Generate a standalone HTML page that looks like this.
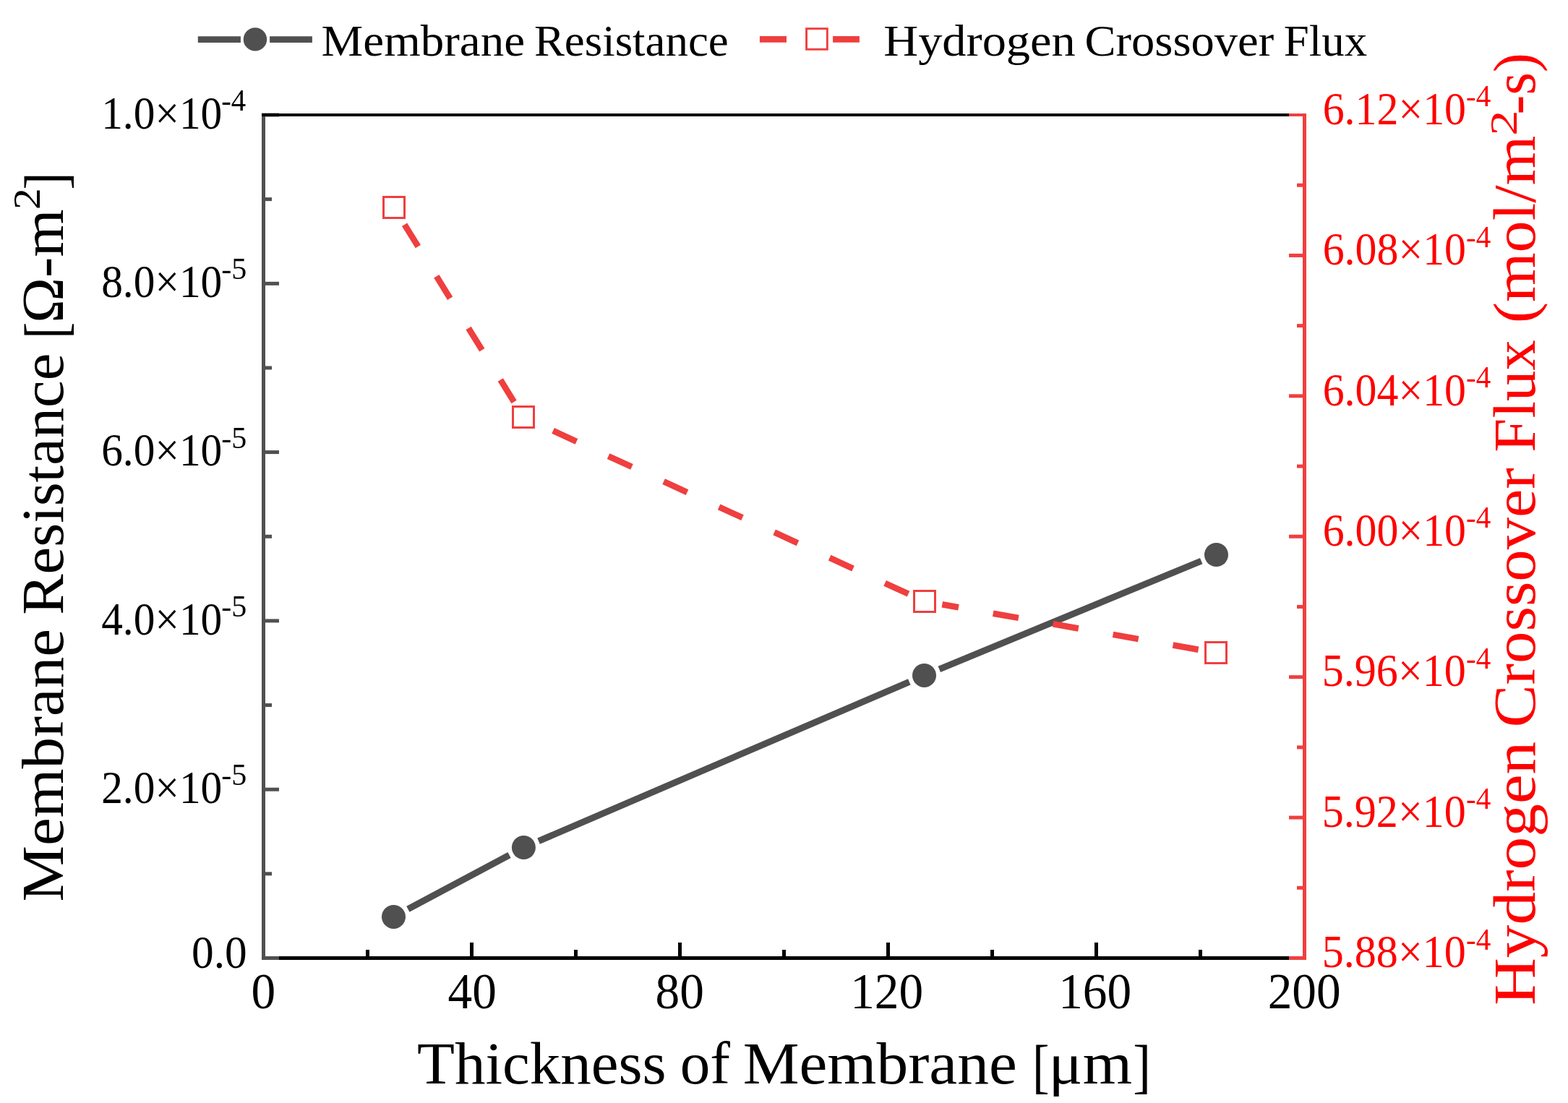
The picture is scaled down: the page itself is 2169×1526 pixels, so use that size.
<!DOCTYPE html>
<html><head><meta charset="utf-8"><title>Membrane Resistance and Hydrogen Crossover Flux vs Thickness</title>
<style>html,body{margin:0;padding:0;background:#fff;}svg{display:block;}text{font-family:"Liberation Serif","DejaVu Serif",serif;}</style>
</head><body>
<svg width="2169" height="1526" viewBox="0 0 2169 1526">
<rect width="2169" height="1526" fill="#fff"/>
<line x1="362" y1="1325.5" x2="1807" y2="1325.5" stroke="#000" stroke-width="5"/>
<line x1="364.5" y1="1304" x2="364.5" y2="1328" stroke="#000" stroke-width="5"/>
<line x1="508.5" y1="1314" x2="508.5" y2="1328" stroke="#000" stroke-width="5"/>
<line x1="652.5" y1="1304" x2="652.5" y2="1328" stroke="#000" stroke-width="5"/>
<line x1="796.5" y1="1314" x2="796.5" y2="1328" stroke="#000" stroke-width="5"/>
<line x1="940.5" y1="1304" x2="940.5" y2="1328" stroke="#000" stroke-width="5"/>
<line x1="1084.5" y1="1314" x2="1084.5" y2="1328" stroke="#000" stroke-width="5"/>
<line x1="1228.5" y1="1304" x2="1228.5" y2="1328" stroke="#000" stroke-width="5"/>
<line x1="1372.5" y1="1314" x2="1372.5" y2="1328" stroke="#000" stroke-width="5"/>
<line x1="1516.5" y1="1304" x2="1516.5" y2="1328" stroke="#000" stroke-width="5"/>
<line x1="1660.5" y1="1314" x2="1660.5" y2="1328" stroke="#000" stroke-width="5"/>
<line x1="1804.5" y1="1304" x2="1804.5" y2="1328" stroke="#000" stroke-width="5"/>
<line x1="364.5" y1="157" x2="364.5" y2="1328" stroke="#505050" stroke-width="5"/>
<line x1="362" y1="1325.5" x2="386" y2="1325.5" stroke="#505050" stroke-width="5"/>
<line x1="362" y1="1208.85" x2="376" y2="1208.85" stroke="#505050" stroke-width="5"/>
<line x1="362" y1="1092.2" x2="386" y2="1092.2" stroke="#505050" stroke-width="5"/>
<line x1="362" y1="975.55" x2="376" y2="975.55" stroke="#505050" stroke-width="5"/>
<line x1="362" y1="858.9" x2="386" y2="858.9" stroke="#505050" stroke-width="5"/>
<line x1="362" y1="742.25" x2="376" y2="742.25" stroke="#505050" stroke-width="5"/>
<line x1="362" y1="625.6" x2="386" y2="625.6" stroke="#505050" stroke-width="5"/>
<line x1="362" y1="508.95" x2="376" y2="508.95" stroke="#505050" stroke-width="5"/>
<line x1="362" y1="392.3" x2="386" y2="392.3" stroke="#505050" stroke-width="5"/>
<line x1="362" y1="275.65" x2="376" y2="275.65" stroke="#505050" stroke-width="5"/>
<line x1="362" y1="159" x2="386" y2="159" stroke="#505050" stroke-width="5"/>
<line x1="362" y1="159" x2="1807" y2="159" stroke="#000" stroke-width="4"/>
<line x1="1804.5" y1="157" x2="1804.5" y2="1328" stroke="#ef3f3f" stroke-width="5"/>
<line x1="1783" y1="159" x2="1807" y2="159" stroke="#ef3f3f" stroke-width="4"/>
<line x1="1794" y1="256.21" x2="1807" y2="256.21" stroke="#ef3f3f" stroke-width="5"/>
<line x1="1783" y1="353.42" x2="1807" y2="353.42" stroke="#ef3f3f" stroke-width="5"/>
<line x1="1794" y1="450.62" x2="1807" y2="450.62" stroke="#ef3f3f" stroke-width="5"/>
<line x1="1783" y1="547.83" x2="1807" y2="547.83" stroke="#ef3f3f" stroke-width="5"/>
<line x1="1794" y1="645.04" x2="1807" y2="645.04" stroke="#ef3f3f" stroke-width="5"/>
<line x1="1783" y1="742.25" x2="1807" y2="742.25" stroke="#ef3f3f" stroke-width="5"/>
<line x1="1794" y1="839.46" x2="1807" y2="839.46" stroke="#ef3f3f" stroke-width="5"/>
<line x1="1783" y1="936.67" x2="1807" y2="936.67" stroke="#ef3f3f" stroke-width="5"/>
<line x1="1794" y1="1033.88" x2="1807" y2="1033.88" stroke="#ef3f3f" stroke-width="5"/>
<line x1="1783" y1="1131.08" x2="1807" y2="1131.08" stroke="#ef3f3f" stroke-width="5"/>
<line x1="1794" y1="1228.29" x2="1807" y2="1228.29" stroke="#ef3f3f" stroke-width="5"/>
<line x1="1783" y1="1325.5" x2="1807" y2="1325.5" stroke="#ef3f3f" stroke-width="5"/>
<line x1="564.36" y1="1257.82" x2="704.54" y2="1183.08" stroke="#505050" stroke-width="9"/>
<line x1="745.07" y1="1163.62" x2="1257.83" y2="943.28" stroke="#505050" stroke-width="9"/>
<line x1="1299.3" y1="925.81" x2="1661.7" y2="776.09" stroke="#505050" stroke-width="9"/>
<circle cx="544.5" cy="1268.4" r="16.5" fill="#505050"/>
<circle cx="724.4" cy="1172.5" r="16.5" fill="#505050"/>
<circle cx="1278.5" cy="934.4" r="16.5" fill="#505050"/>
<circle cx="1682.5" cy="767.5" r="16.5" fill="#505050"/>
<line x1="711.03" y1="555.98" x2="557.97" y2="308.02" stroke="#ef3f3f" stroke-width="8.5" stroke-dasharray="35.7 48.5"/>
<line x1="1256.56" y1="821.69" x2="746.44" y2="587.31" stroke="#ef3f3f" stroke-width="8.5" stroke-dasharray="35.7 48.5"/>
<line x1="1657.67" y1="898.71" x2="1303.33" y2="836.29" stroke="#ef3f3f" stroke-width="8.5" stroke-dasharray="35.7 48.5"/>
<rect x="530.5" y="272.5" width="29" height="29" fill="none" stroke="#ef3f3f" stroke-width="3"/>
<rect x="709.5" y="562.5" width="29" height="29" fill="none" stroke="#ef3f3f" stroke-width="3"/>
<rect x="1264.5" y="817.5" width="29" height="29" fill="none" stroke="#ef3f3f" stroke-width="3"/>
<rect x="1667.5" y="888.5" width="29" height="29" fill="none" stroke="#ef3f3f" stroke-width="3"/>
<line x1="273.8" y1="54.6" x2="332.9" y2="54.6" stroke="#505050" stroke-width="8.8"/>
<line x1="373.1" y1="54.6" x2="431.9" y2="54.6" stroke="#505050" stroke-width="8.8"/>
<circle cx="352.95" cy="54.4" r="16.2" fill="#505050"/>
<line x1="1050.9" y1="54.3" x2="1088" y2="54.3" stroke="#ef3f3f" stroke-width="8.8"/>
<line x1="1152.1" y1="54.3" x2="1188.9" y2="54.3" stroke="#ef3f3f" stroke-width="8.8"/>
<rect x="1115.55" y="39.65" width="28.8" height="28.6" fill="none" stroke="#ef3f3f" stroke-width="2.9"/>
<text transform="translate(444.58,77.1) scale(1.0621,1)" font-size="61.2" fill="#000">Membrane</text>
<text transform="translate(738.95,77.1) scale(1.0271,1)" font-size="61.2" fill="#000">Resistance</text>
<text transform="translate(1222.23,76.9) scale(1.0847,1)" font-size="61.2" fill="#000">Hydrogen</text>
<text transform="translate(1500.54,76.9) scale(1.0543,1)" font-size="61.2" fill="#000">Crossover</text>
<text transform="translate(1775.84,76.9) scale(1.0284,1)" font-size="61.2" fill="#000">Flux</text>
<text transform="translate(140.14,177.7) scale(0.9314,1)" font-size="63.8" fill="#000">1.0×10</text>
<text transform="translate(306.28,153) scale(0.9576,1)" font-size="42.6" fill="#000">-4</text>
<text transform="translate(140.14,411) scale(0.9314,1)" font-size="63.8" fill="#000">8.0×10</text>
<text transform="translate(306.22,386.3) scale(0.9875,1)" font-size="42.6" fill="#000">-5</text>
<text transform="translate(140.14,644.3) scale(0.9314,1)" font-size="63.8" fill="#000">6.0×10</text>
<text transform="translate(306.22,619.6) scale(0.9875,1)" font-size="42.6" fill="#000">-5</text>
<text transform="translate(140.14,877.6) scale(0.9314,1)" font-size="63.8" fill="#000">4.0×10</text>
<text transform="translate(306.22,852.9) scale(0.9875,1)" font-size="42.6" fill="#000">-5</text>
<text transform="translate(140.14,1110.9) scale(0.9314,1)" font-size="63.8" fill="#000">2.0×10</text>
<text transform="translate(306.22,1086.2) scale(0.9875,1)" font-size="42.6" fill="#000">-5</text>
<text transform="translate(264.98,1339.1) scale(0.9613,1)" font-size="63.8" fill="#000">0.0</text>
<text transform="translate(1829.69,171.8) scale(0.9379,1)" font-size="63.8" fill="#ff0000">6.12×10</text>
<text transform="translate(2028.07,147.1) scale(0.9636,1)" font-size="42.6" fill="#ff0000">-4</text>
<text transform="translate(1829.69,366.22) scale(0.9379,1)" font-size="63.8" fill="#ff0000">6.08×10</text>
<text transform="translate(2028.07,341.52) scale(0.9636,1)" font-size="42.6" fill="#ff0000">-4</text>
<text transform="translate(1829.69,560.63) scale(0.9379,1)" font-size="63.8" fill="#ff0000">6.04×10</text>
<text transform="translate(2028.07,535.93) scale(0.9636,1)" font-size="42.6" fill="#ff0000">-4</text>
<text transform="translate(1829.69,755.05) scale(0.9379,1)" font-size="63.8" fill="#ff0000">6.00×10</text>
<text transform="translate(2028.07,730.35) scale(0.9636,1)" font-size="42.6" fill="#ff0000">-4</text>
<text transform="translate(1828.73,949.47) scale(0.9424,1)" font-size="63.8" fill="#ff0000">5.96×10</text>
<text transform="translate(2028.07,924.77) scale(0.9636,1)" font-size="42.6" fill="#ff0000">-4</text>
<text transform="translate(1828.73,1143.88) scale(0.9424,1)" font-size="63.8" fill="#ff0000">5.92×10</text>
<text transform="translate(2028.07,1119.18) scale(0.9636,1)" font-size="42.6" fill="#ff0000">-4</text>
<text transform="translate(1828.73,1338.3) scale(0.9424,1)" font-size="63.8" fill="#ff0000">5.88×10</text>
<text transform="translate(2028.07,1313.6) scale(0.9636,1)" font-size="42.6" fill="#ff0000">-4</text>
<text transform="translate(347.55,1394.9) scale(0.9688,1)" font-size="69.5" fill="#000">0</text>
<text transform="translate(619.56,1394.9) scale(0.9688,1)" font-size="69.5" fill="#000">40</text>
<text transform="translate(906.59,1394.9) scale(0.9688,1)" font-size="69.5" fill="#000">80</text>
<text transform="translate(1176.19,1394.9) scale(0.9688,1)" font-size="69.5" fill="#000">120</text>
<text transform="translate(1464.19,1394.9) scale(0.9688,1)" font-size="69.5" fill="#000">160</text>
<text transform="translate(1753.64,1394.9) scale(0.9688,1)" font-size="69.5" fill="#000">200</text>
<text transform="translate(576.95,1498.8) scale(1.0269,1)" font-size="82.8" fill="#000">Thickness</text>
<text transform="translate(940.79,1498.8) scale(1.0030,1)" font-size="82.8" fill="#000">of</text>
<text transform="translate(1027.69,1498.8) scale(1.0571,1)" font-size="82.8" fill="#000">Membrane</text>
<text transform="translate(1427.88,1502.5) scale(0.8526,1)" font-size="82.8" fill="#000">[</text>
<text transform="translate(1450.58,1498.8) scale(1.0604,1)" font-size="82.8" fill="#000">μm</text>
<text transform="translate(1567.2,1502.5) scale(0.9000,1)" font-size="82.8" fill="#000">]</text>
<text transform="translate(87,1247.4) rotate(-90) scale(1.0523,1)" font-size="82.8" fill="#000">Membrane</text>
<text transform="translate(87,850.85) rotate(-90) scale(1.0226,1)" font-size="82.8" fill="#000">Resistance</text>
<text transform="translate(91,468.82) rotate(-90) scale(0.8368,1)" font-size="82.8" fill="#000">[</text>
<text transform="translate(87,447) rotate(-90) scale(1.0257,1)" font-size="82.8" fill="#000">Ω-m</text>
<text transform="translate(54.6,289.97) rotate(-90) scale(1.1333,1)" font-size="52.5" fill="#000">2</text>
<text transform="translate(91,262.67) rotate(-90) scale(0.8889,1)" font-size="82.8" fill="#000">]</text>
<text transform="translate(2122.7,1391.11) rotate(-90) scale(1.1034,1)" font-size="82.8" fill="#ff0000">Hydrogen</text>
<text transform="translate(2122.7,1006.51) rotate(-90) scale(1.0702,1)" font-size="82.8" fill="#ff0000">Crossover</text>
<text transform="translate(2122.7,625.65) rotate(-90) scale(1.0242,1)" font-size="82.8" fill="#ff0000">Flux</text>
<text transform="translate(2122.7,447.36) rotate(-90) scale(1.0653,1)" font-size="82.8" fill="#ff0000">(mol/m</text>
<text transform="translate(2097.8,187.7) rotate(-90) scale(1.3476,1)" font-size="52.5" fill="#ff0000">2</text>
<text transform="translate(2122.7,158.43) rotate(-90) scale(0.9753,1)" font-size="82.8" fill="#ff0000">-s)</text>
</svg>
</body></html>
